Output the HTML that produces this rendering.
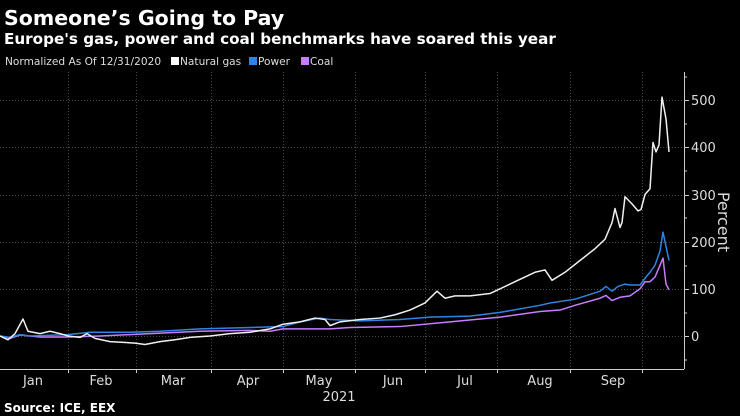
<!DOCTYPE html>
<html><head><meta charset="utf-8"><style>
body{margin:0;background:#000;width:740px;height:416px;overflow:hidden;font-family:"Liberation Sans","DejaVu Sans",sans-serif;color:#fff}
</style></head><body>
<svg width="740" height="416" xmlns="http://www.w3.org/2000/svg" style="position:absolute;left:0;top:0">
<text x="4" y="25" font-size="20.5" font-weight="bold" fill="#fff" font-family="DejaVu Sans,sans-serif">Someone’s Going to Pay</text>
<text x="4" y="44" font-size="15.2" font-weight="bold" fill="#fff" font-family="DejaVu Sans,sans-serif">Europe's gas, power and coal benchmarks have soared this year</text>
<g font-size="10.6" fill="#ddd" font-family="DejaVu Sans,sans-serif">
<text x="5" y="65">Normalized As Of 12/31/2020</text>
<rect x="171" y="57" width="8" height="8" fill="#fff"/><text x="180" y="65">Natural gas</text>
<rect x="249" y="57" width="8" height="8" fill="#2f84e0"/><text x="258" y="65">Power</text>
<rect x="301" y="57" width="8" height="8" fill="#c77dff"/><text x="310" y="65">Coal</text>
</g>
<g stroke="#4a4a4a" stroke-dasharray="1,2" stroke-width="1">
<line x1="0" x2="683" y1="100.5" y2="100.5"/><line x1="0" x2="683" y1="147.5" y2="147.5"/><line x1="0" x2="683" y1="195.5" y2="195.5"/><line x1="0" x2="683" y1="242.5" y2="242.5"/><line x1="0" x2="683" y1="289.5" y2="289.5"/><line x1="0" x2="683" y1="336.5" y2="336.5"/>
<line x1="68.5" x2="68.5" y1="72" y2="369"/><line x1="136.5" x2="136.5" y1="72" y2="369"/><line x1="211.5" x2="211.5" y1="72" y2="369"/><line x1="283.5" x2="283.5" y1="72" y2="369"/><line x1="355.5" x2="355.5" y1="72" y2="369"/><line x1="425.5" x2="425.5" y1="72" y2="369"/><line x1="497.5" x2="497.5" y1="72" y2="369"/><line x1="570.5" x2="570.5" y1="72" y2="369"/><line x1="642.5" x2="642.5" y1="72" y2="369"/>
</g>
<line x1="0" x2="684" y1="369.5" y2="369.5" stroke="#ccc"/>
<line x1="684.5" x2="684.5" y1="72" y2="369" stroke="#ccc"/>
<g stroke="#ccc">
<line x1="684" x2="689" y1="100.5" y2="100.5"/><line x1="684" x2="689" y1="147.5" y2="147.5"/><line x1="684" x2="689" y1="195.5" y2="195.5"/><line x1="684" x2="689" y1="242.5" y2="242.5"/><line x1="684" x2="689" y1="289.5" y2="289.5"/><line x1="684" x2="689" y1="336.5" y2="336.5"/>
<line x1="684" x2="687" y1="124" y2="124"/><line x1="684" x2="687" y1="171" y2="171"/><line x1="684" x2="687" y1="218" y2="218"/><line x1="684" x2="687" y1="266" y2="266"/><line x1="684" x2="687" y1="313" y2="313"/><line x1="684" x2="687" y1="360" y2="360"/><line x1="684" x2="687" y1="77" y2="77"/>
<line x1="68.5" x2="68.5" y1="369" y2="373"/><line x1="136.5" x2="136.5" y1="369" y2="373"/><line x1="211.5" x2="211.5" y1="369" y2="373"/><line x1="283.5" x2="283.5" y1="369" y2="373"/><line x1="355.5" x2="355.5" y1="369" y2="373"/><line x1="425.5" x2="425.5" y1="369" y2="373"/><line x1="497.5" x2="497.5" y1="369" y2="373"/><line x1="570.5" x2="570.5" y1="369" y2="373"/><line x1="642.5" x2="642.5" y1="369" y2="373"/>
</g>
<g font-size="13" fill="#ddd" font-family="DejaVu Sans,sans-serif">
<text x="691" y="105">500</text><text x="691" y="152">400</text><text x="691" y="200">300</text><text x="691" y="247">200</text><text x="691" y="294">100</text><text x="691" y="341">0</text>
<text x="718" y="222" font-size="16" transform="rotate(90 718 222)" text-anchor="middle">Percent</text>
<g text-anchor="middle"><text x="33" y="385">Jan</text><text x="101" y="385">Feb</text><text x="173" y="385">Mar</text><text x="248" y="385">Apr</text><text x="319" y="385">May</text><text x="393" y="385">Jun</text><text x="465" y="385">Jul</text><text x="540" y="385">Aug</text><text x="613" y="385">Sep</text><text x="339" y="401">2021</text></g>
</g>
<text x="4" y="412" font-size="12" font-weight="bold" fill="#fff" font-family="DejaVu Sans,sans-serif">Source: ICE, EEX</text>
<g transform="translate(0,336) scale(1,-0.472)" fill="none" stroke-width="1.5" stroke-linejoin="round">
<polyline vector-effect="non-scaling-stroke" stroke="#c77dff" points="0,0 10,-5 20,2 40,-2 68,-2 100,0 150,5 200,10 250,12 270,10 283,15 300,15 330,15 350,18 400,20 450,30 500,40 540,52 560,55 575,65 600,80 606,86 612,75 620,82 630,85 640,100 645,115 650,115 655,125 660,150 663,165 666,110 669,98"/>
<polyline vector-effect="non-scaling-stroke" stroke="#2f84e0" points="0,0 10,-3 20,3 30,0 68,3 90,8 130,8 160,10 200,15 250,18 283,20 300,30 320,38 330,35 360,32 400,35 430,40 470,42 500,50 540,65 550,70 575,78 590,88 600,95 606,105 612,95 618,105 625,110 630,108 640,108 646,125 650,135 655,150 660,180 663,220 667,180 669,160"/>
<polyline vector-effect="non-scaling-stroke" stroke="#f0f0f0" points="0,0 8,-8 15,5 23,36 28,10 40,5 50,10 60,5 68,0 80,-3 87,5 95,-5 110,-12 135,-15 145,-18 160,-12 175,-8 190,-3 210,0 230,5 250,8 270,15 283,25 300,30 315,38 325,35 330,22 340,30 360,35 380,38 395,45 410,55 425,70 437,95 445,80 455,85 470,85 490,90 510,110 520,120 535,135 545,140 552,118 565,135 580,160 595,185 605,205 612,240 615,270 620,230 622,240 625,295 632,280 638,265 641,268 645,300 650,312 653,410 656,390 659,405 662,506 666,460 669,390"/>
</g>
</svg>
</body></html>
